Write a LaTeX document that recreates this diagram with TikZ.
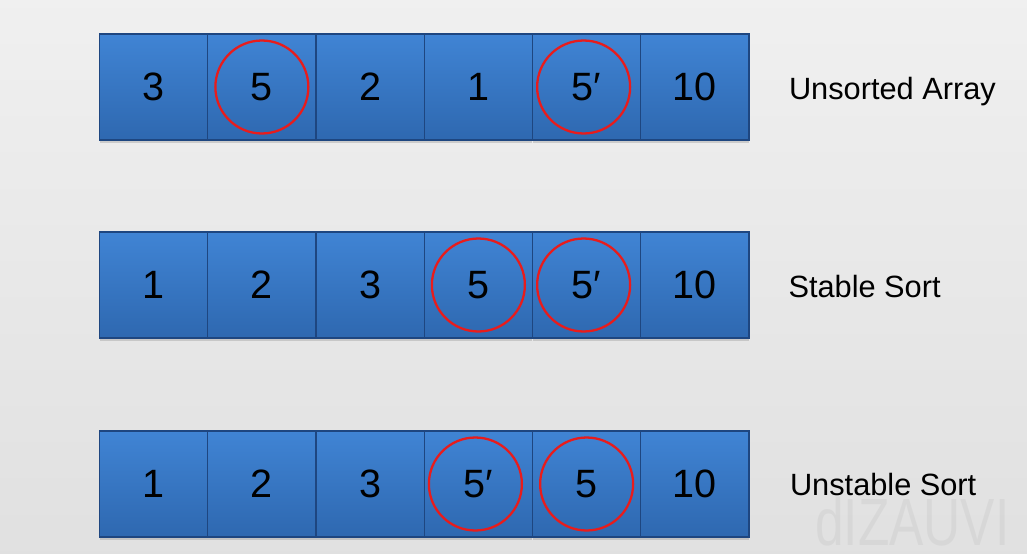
\documentclass[tikz,border=0pt]{standalone}
\usepackage{fontspec}
\setmainfont{Liberation Sans}
\usetikzlibrary{positioning, shadows}
\definecolor{cellblue}{RGB}{64,132,212}
\definecolor{cellbluedark}{RGB}{46,104,176}
\definecolor{edgeblue}{RGB}{30,70,128}
\definecolor{ringred}{RGB}{232,28,28}
\begin{document}
\begin{tikzpicture}[x=0.02cm, y=-0.02cm,
    cell/.style={rectangle, draw=edgeblue, line width=0.8pt,
        top color=cellblue, bottom color=cellbluedark,
        minimum width=2.165cm, minimum height=2.12cm, inner sep=0pt,
        drop shadow={opacity=0.3, shadow xshift=0pt, shadow yshift=-1.5pt},
        font=\fontsize{22.5}{26}\selectfont},
    ring/.style={circle, draw=ringred, line width=1.3pt,
        minimum size=1.86cm, inner sep=0pt},
    rowlabel/.style={font=\fontsize{17.5}{20}\selectfont, inner sep=0pt}]
    % Background
    \fill[top color=gray!12, bottom color=gray!24] (0,0) rectangle (1027,554);
    \useasboundingbox (0,0) rectangle (1027,554);

    % Watermark
    \node[text=gray!60, opacity=0.2, font=\fontsize{38}{38}\selectfont,
        xscale=0.77, anchor=base west, inner sep=0pt] (mark) at (815,545) {dIZAUVI};

    % Unsorted array
    \foreach \v [count=\i] in {3,5,2,1,5′,10} {
        \node[cell] (u\i) at ({99.5+108.25*(\i-0.5)}, 87) {\v};
    }
    % Stable sort
    \foreach \v [count=\i] in {1,2,3,5,5′,10} {
        \node[cell] (s\i) at ({99.5+108.25*(\i-0.5)}, 285) {\v};
    }
    % Unstable sort
    \foreach \v [count=\i] in {1,2,3,5′,5,10} {
        \node[cell] (n\i) at ({99.5+108.25*(\i-0.5)}, 484) {\v};
    }

    % Equal keys circled
    \node[ring] (ru2) at (u2) {};
    \node[ring] (ru5) at ([xshift=-0.06cm]u5) {};
    \node[ring] (rs4) at (s4) {};
    \node[ring] (rs5) at ([xshift=-0.06cm]s5) {};
    \node[ring] (rn4) at ([xshift=-0.06cm]n4) {};
    \node[ring] (rn5) at (n5) {};

    % Row labels
    \node[rowlabel, right=0.78cm of u6, yshift=-0.1cm] (lu) {Unsorted Array};
    \node[rowlabel, right=0.77cm of s6, yshift=-0.04cm] (ls) {Stable Sort};
    \node[rowlabel, right=0.8cm of n6, yshift=-0.02cm] (ln) {Unstable Sort};
\end{tikzpicture}
\end{document}
